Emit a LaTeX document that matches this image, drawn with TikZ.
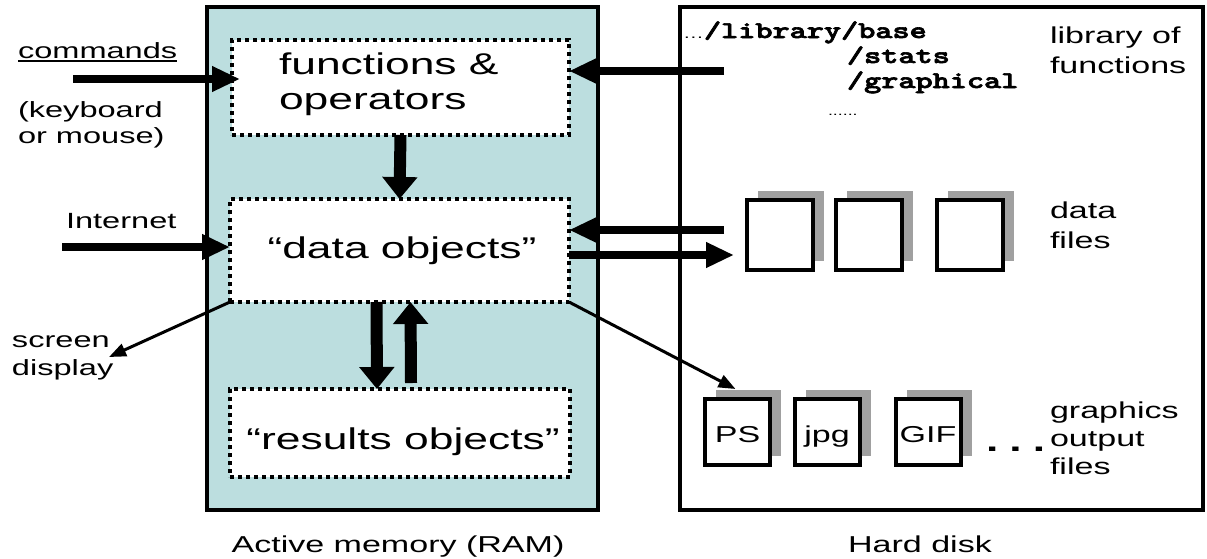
\documentclass[tikz,border=0pt]{standalone}
\usepackage{fontspec}
\setmainfont{Liberation Sans}
\newfontfamily\monob{lmmonolt10-bold.otf}[FakeBold=2.5]
\usepackage{graphicx}
\usetikzlibrary{arrows.meta,shadows,calc}
\definecolor{ramfill}{RGB}{188,222,223}
\definecolor{shadowgray}{RGB}{160,160,160}
\newcommand{\sx}[1]{\scalebox{1.48}[1]{#1}}
\newcommand{\sxm}[1]{\scalebox{1.36}[1]{#1}}
\newcommand{\mlines}[1]{\sx{\begin{tabular}[t]{@{}l@{}}#1\end{tabular}}}
\newsavebox{\ulb}
\newcommand{\ulbar}[1]{\sbox{\ulb}{#1}\rlap{\rule[-4pt]{\wd\ulb}{1.8pt}}\usebox{\ulb}}
\begin{document}
\begin{tikzpicture}[x=1pt,y=-1pt,
  big/.style={line width=7.5pt, -{Triangle[length=28pt,width=24pt]}},
  vbig/.style={line width=12pt, -{Triangle[length=22pt,width=34pt]}},
  thinarrow/.style={line width=3pt, -{Triangle[length=17pt,width=13pt]}},
  outerbox/.style={draw, line width=4.5pt, inner sep=0pt, outer sep=0pt},
  dotbox/.style={draw, fill=white, line width=3.5pt, dash pattern=on 4pt off 4pt, inner sep=0pt, outer sep=0pt},
  filebox/.style={draw, fill=white, line width=4pt, inner sep=0pt, outer sep=0pt,
    text height=20pt, text depth=0pt,
    general shadow={fill=shadowgray, shadow xshift=11pt, shadow yshift=9pt}},
  lbl/.style={inner sep=0pt, outer sep=0pt}]
\useasboundingbox (0,0) rectangle (1207,558);

% main containers
\node[outerbox, fill=ramfill, minimum width=391pt, minimum height=503pt] (ram) at (402.5,258.5) {};
\node[outerbox, fill=white, minimum width=523pt, minimum height=503pt] (disk) at (941.5,258.5) {};

% inner dotted boxes
\node[dotbox, minimum width=337pt, minimum height=95pt] (funcs) at (400.5,87.5) {};
\node[dotbox, minimum width=339pt, minimum height=103pt] (data) at (399.5,250.5) {};
\node[dotbox, minimum width=340pt, minimum height=88pt] (results) at (400,433) {};

\node[lbl, anchor=base west] (funcstxt) at (279,74) {\fontsize{30}{35}\selectfont\mlines{functions \&\\operators}};
\node[lbl, anchor=base] (datatxt) at (402,258) {\fontsize{30}{35}\selectfont\sx{“data objects”}};
\node[lbl, anchor=base] (restxt) at (403,449) {\fontsize{30}{35}\selectfont\sx{“results objects”}};

% left labels
\node[lbl, anchor=base west] (cmd) at (18,58) {\fontsize{22}{26}\selectfont\sx{\ulbar{commands}}};
\node[lbl, anchor=base west] (kbd) at (18,117) {\fontsize{22}{26}\selectfont\mlines{(keyboard\\or mouse)}};
\node[lbl, anchor=base west] (net) at (66,228) {\fontsize{22}{26}\selectfont\sx{Internet}};
\node[lbl, anchor=base west] (scr) at (12,347) {\fontsize{22}{28}\selectfont\mlines{screen\\display}};

% captions
\node[lbl, anchor=base] (ramcap) at (398,552) {\fontsize{23}{26}\selectfont\sx{Active memory (RAM)}};
\node[lbl, anchor=base] (diskcap) at (920,552) {\fontsize{23}{26}\selectfont\sx{Hard disk}};

% library paths
\node[lbl, anchor=base west] (lib0) at (683,38) {\fontsize{14}{14}\selectfont\sx{…}};
\node[lbl, anchor=base west] (lib1) at (704,38) {\monob\fontsize{24}{25}\selectfont\sxm{/library/base}};
\node[lbl, anchor=base west] (lib2) at (847,63) {\monob\fontsize{24}{25}\selectfont\sxm{/stats}};
\node[lbl, anchor=base west] (lib3) at (847,88) {\monob\fontsize{24}{25}\selectfont\sxm{/graphical}};
\node[lbl, anchor=base west] (libdots) at (828,115) {\fontsize{12}{12}\selectfont\sx{......}};

% right labels
\node[lbl, anchor=base west] (libtxt) at (1050,43) {\fontsize{23}{30}\selectfont\mlines{library of\\functions}};
\node[lbl, anchor=base west] (dftxt) at (1050,218) {\fontsize{23}{30}\selectfont\mlines{data\\files}};
\node[lbl, anchor=base west] (gftxt) at (1050,418) {\fontsize{23}{28}\selectfont\mlines{graphics\\output\\files}};

% data files
\node[filebox, minimum width=66pt, minimum height=70pt] (f1) at (780,235) {};
\node[filebox, minimum width=66pt, minimum height=70pt] (f2) at (869,235) {};
\node[filebox, minimum width=66pt, minimum height=70pt] (f3) at (970,235) {};

% graphics files
\node[filebox, minimum width=65pt, minimum height=66pt] (ps) at (737.5,432) {\fontsize{23}{26}\selectfont\sx{PS}};
\node[filebox, minimum width=65pt, minimum height=66pt] (jpg) at (827,432) {\fontsize{23}{26}\selectfont\sx{jpg}};
\node[filebox, minimum width=65pt, minimum height=66pt] (gif) at (928,432) {\fontsize{23}{26}\selectfont\sx{GIF}};
\node[lbl, anchor=base west] (gdots) at (986,451) {\fontsize{30}{30}\selectfont\bfseries\sx{.\hspace{7.5pt}.\hspace{7.5pt}.}};

% connectors
\coordinate (cmdS) at (73,79);
\draw[big] (cmdS) -- ($(funcs.west |- cmdS)+(8,0)$);
\coordinate (netS) at (62,247);
\draw[big] (netS) -- (data.west |- netS);
\draw[vbig] (funcs.south) -- (data.north);
\coordinate (libS) at (724,71);
\draw[big] (libS) -- (funcs.east |- libS);
\coordinate (dfS) at (724,230);
\draw[big] (dfS) -- (data.east |- dfS);
\coordinate (dfT) at (734,255);
\draw[big] (data.east |- dfT) -- (dfT);
\draw[vbig] ($(data.south)+(-23,0)$) -- ($(results.north)+(-23,0)$);
\draw[vbig] ($(results.north)+(11,-6)$) -- ($(data.south)+(11,0)$);
\coordinate (scrT) at (109,357);
\draw[thinarrow] (data.south west) -- (scrT);
\draw[thinarrow] (data.south east) -- ($(ps.north)+(-2,-10)$);
\end{tikzpicture}
\end{document}
